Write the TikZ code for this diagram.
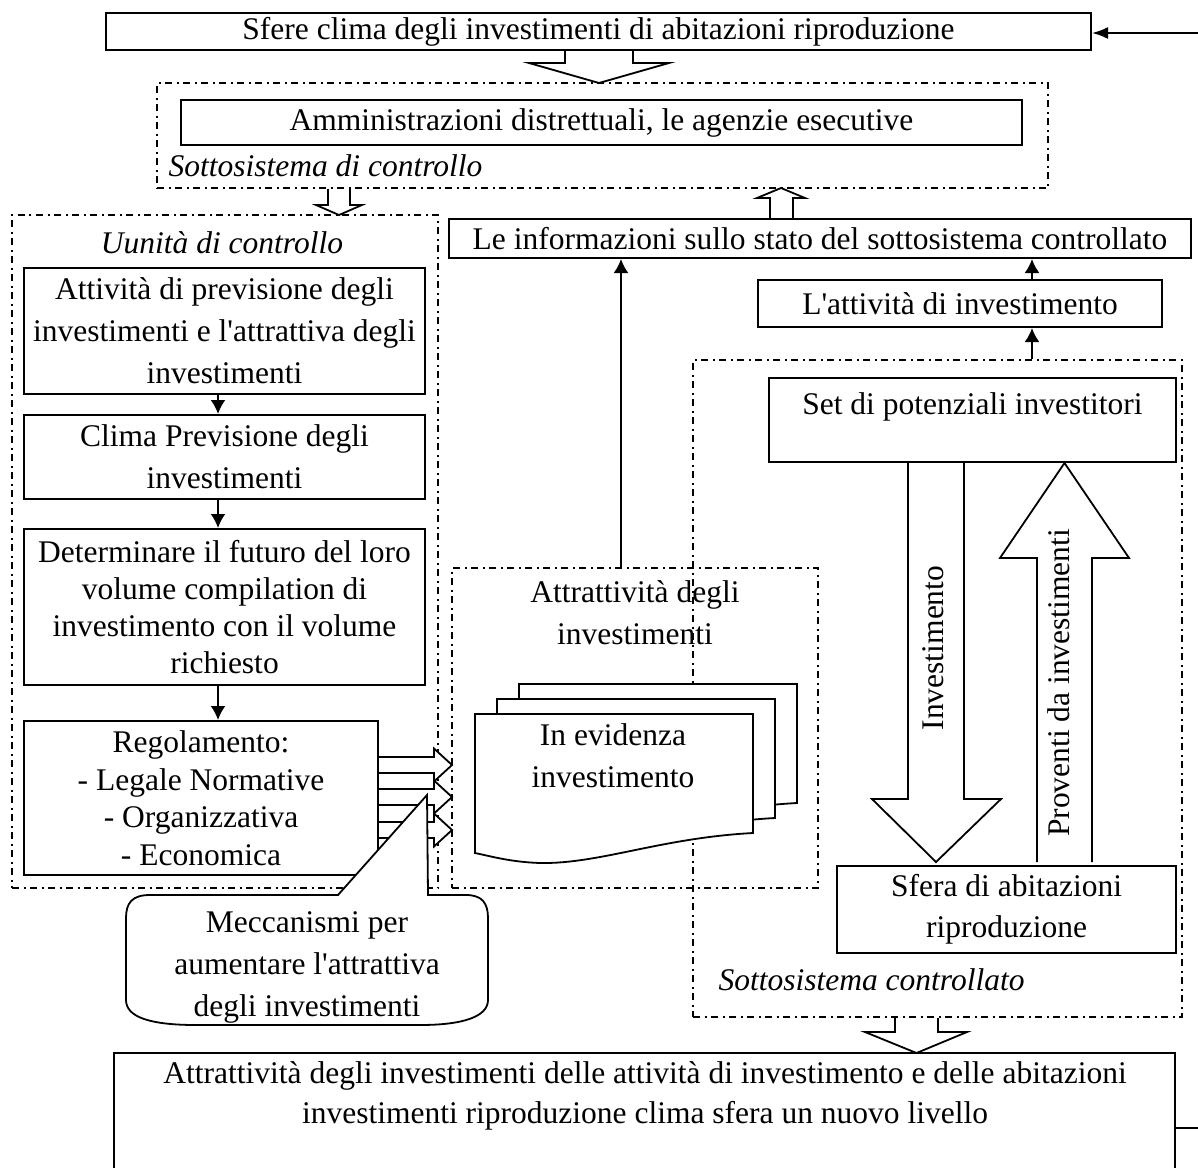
\documentclass[tikz,border=0pt]{standalone}
\usepackage{fontspec}
\setmainfont{Liberation Serif}[Ligatures=TeXOff]
\usetikzlibrary{arrows.meta,calc}
\begin{document}
\begin{tikzpicture}[x=1pt,y=-1pt,
  font=\fontsize{31.5}{42}\selectfont,
  box/.style={draw, line width=2pt, fill=white, align=center, inner sep=0pt},
  cont/.style={draw, line width=1.6pt, dash pattern=on 7pt off 4.5pt on 2pt off 4.5pt, inner sep=0pt},
  arr/.style={line width=2pt, -{Latex[length=14pt,width=15pt]}},
  hollow/.style={draw, line width=1.8pt, fill=white, line join=miter},
  lbl/.style={font=\fontsize{31.5}{42}\selectfont\itshape},
  txt/.style={align=center, inner sep=0pt},
]
\useasboundingbox (0,0) rectangle (1198,1167);
\clip (0,0) rectangle (1198,1167);

% ---------- dash-dot containers ----------
\node[cont, minimum width=891pt, minimum height=105pt] (ctrl) at (602.5,135.5) {};
\node[cont, minimum width=426pt, minimum height=673pt] (unit) at (225,551.5) {};
\node[cont, minimum width=366pt, minimum height=320pt] (midc) at (635,728) {};
\node[cont, minimum width=489pt, minimum height=657pt] (ctrd) at (937.5,688.5) {};

% ---------- hollow block arrows ----------
\draw[hollow] (565,51) -- (565,63) -- (529,63) -- (599,83) -- (669,63) -- (633,63) -- (633,51);
\draw[hollow] (328,189) -- (328,205) -- (316,205) -- (339,215) -- (362,205) -- (350,205) -- (350,189);
\draw[hollow] (770,218) -- (770,198) -- (757,198) -- (781,188) -- (805,198) -- (793,198) -- (793,218);
\draw[hollow] (908,463) -- (908,799) -- (872,799) -- (936,862) -- (1001,799) -- (964,799) -- (964,463);
\draw[hollow] (1037,862) -- (1037,558) -- (1000,558) -- (1064.5,463) -- (1129,558) -- (1092,558) -- (1092,862);
\draw[hollow] (895,1018) -- (895,1032) -- (865,1032) -- (916.5,1053) -- (967,1032) -- (938,1032) -- (938,1018);
\foreach \cy in {765,797,830}{
  \draw[hollow] (379,\cy-8) -- (434,\cy-8) -- (434,\cy-16.5) -- (452,\cy) -- (434,\cy+16.5) -- (434,\cy+8) -- (379,\cy+8);
}

% ---------- boxes ----------
\node[box, minimum width=985pt, minimum height=37pt] (top) at (598.5,31.5) {Sfere clima degli investimenti di abitazioni riproduzione};
\node[box, minimum width=841pt, minimum height=45pt] (admin) at (601.5,122.5) {Amministrazioni distrettuali, le agenzie esecutive};
\node[lbl, anchor=base west] (ctrllbl) at (165,176) {Sottosistema di controllo};

\node[lbl, anchor=base] (unitlbl) at (222,253) {Uunità di controllo};
\node[box, minimum width=401pt, minimum height=126pt] (boxA) at (224.5,331) {Attività di previsione degli\\investimenti e l'attrattiva degli\\investimenti};
\node[box, minimum width=401pt, minimum height=84pt] (boxB) at (224.5,457) {Clima Previsione degli\\investimenti};
\node[box, minimum width=401pt, minimum height=156pt, font=\fontsize{31.5}{37}\selectfont] (boxC) at (224.5,607) {Determinare il futuro del loro\\volume compilation di\\investimento con il volume\\richiesto};
\node[box, minimum width=354pt, minimum height=154pt, font=\fontsize{31.5}{37.5}\selectfont] (boxD) at (201,798) {Regolamento:\\- Legale Normative\\- Organizzativa\\- Economica};

\coordinate (xcol) at (218,0);
\draw[arr] (boxA.south -| xcol) -- (boxB.north -| xcol);
\draw[arr] (boxB.south -| xcol) -- (boxC.north -| xcol);
\draw[arr] (boxC.south -| xcol) -- (boxD.north -| xcol);

% ---------- right part ----------
\node[box, minimum width=742pt, minimum height=39pt] (info) at (820,238.5) {Le informazioni sullo stato del sottosistema controllato};
\node[box, minimum width=404pt, minimum height=47pt] (invact) at (960,303.5) {L'attività di investimento};
\node[box, minimum width=407pt, minimum height=84pt] (setbox) at (972.5,420) {};
\node[txt, anchor=base] (settxt) at (972.5,414) {Set di potenziali investitori};
\node[box, minimum width=339pt, minimum height=87pt, font=\fontsize{31.5}{41}\selectfont] (sfera) at (1006.5,909) {Sfera di abitazioni\\riproduzione};
\node[txt, rotate=90, anchor=base] (invlbl) at (943,648) {Investimento};
\node[txt, rotate=90, anchor=base] (provlbl) at (1069,683) {Proventi da investimenti};
\node[lbl, anchor=base west] (ctrdlbl) at (715,990) {Sottosistema controllato};

\coordinate (xr) at (1032,0);
\draw[arr] (ctrd.north -| xr) -- (invact.south -| xr);
\draw[arr] (invact.north -| xr) -- (info.south -| xr);

% ---------- middle part ----------
\node[txt] (midtxt) at (635,613) {Attrattività degli\\investimenti};
\coordinate (xm) at (621,0);
\draw[arr] (midc.north -| xm) -- (info.south -| xm);

\foreach \dx/\dy in {44/-30, 22/-15, 0/0}{
  \begin{scope}[shift={(\dx,\dy)}]
    \draw[line width=1.8pt, fill=white, line join=miter] (475,714) -- (753,714) -- (753,833)
      .. controls (660,838) and (600,864) .. (540,863)
      .. controls (510,862) and (490,856) .. (475,853) -- cycle;
  \end{scope}
}
\node[txt] (doctxt) at (613,756) {In evidenza\\investimento};

% ---------- top connector ----------
\coordinate (tr) at (1198,33);
\draw[arr, -{Latex[length=16pt,width=12pt]}] (tr) -- (tr -| top.east);

% ---------- callout ----------
\draw[line width=1.8pt, fill=white, line join=miter] (338,895) -- (427,795) -- (428,895) -- (466,895)
  .. controls (482,895) and (488,903) .. (488,918) -- (488,1000)
  .. controls (488,1017) and (462,1025) .. (420,1025) -- (196,1025)
  .. controls (150,1025) and (126,1017) .. (126,1000) -- (126,918)
  .. controls (126,903) and (132,895) .. (150,895) -- cycle;
\node[txt] (calltxt) at (307,967) {Meccanismi per\\aumentare l'attrattiva\\degli investimenti};

% ---------- bottom ----------
\node[box, minimum width=1061pt, minimum height=147pt] (bottom) at (644.5,1126.5) {};
\node[txt, font=\fontsize{31.5}{40}\selectfont] (bottxt) at (645,1096) {Attrattività degli investimenti delle attività di investimento e delle abitazioni\\investimenti riproduzione clima sfera un nuovo livello};
\coordinate (rr) at (1198,1128);
\draw[line width=2pt] (rr -| bottom.east) -- (rr);
\end{tikzpicture}
\end{document}
